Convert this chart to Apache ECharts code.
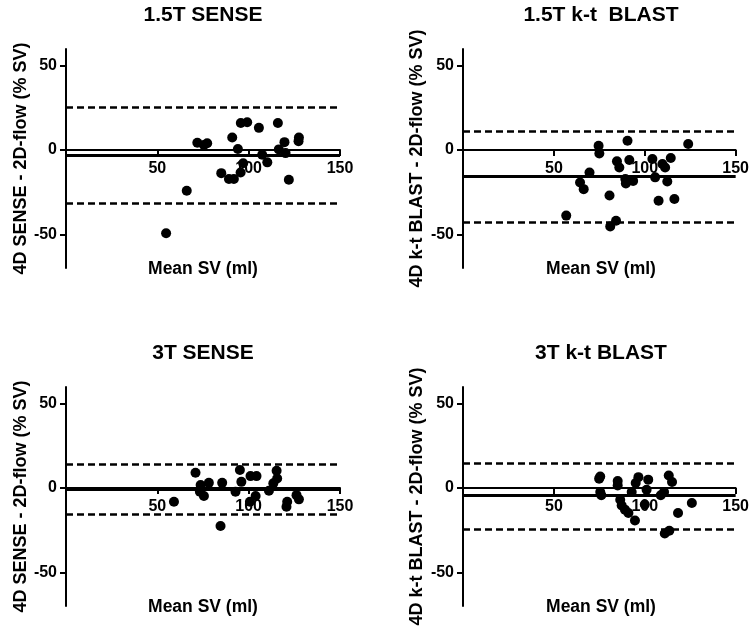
<!DOCTYPE html>
<html>
<head>
<meta charset="utf-8">
<script src="https://cdn.jsdelivr.net/npm/echarts@6/dist/echarts.min.js"></script>
<style>
html,body{margin:0;padding:0;background:#fff;}
#chart{width:752px;height:631px;}
</style>
</head>
<body>
<div id="chart"></div>
<script>
// ---- data (Bland-Altman: mean SV in ml, difference in % SV) ----
var panelTitles = ['1.5T SENSE', '1.5T k-t  BLAST', '3T SENSE', '3T k-t BLAST'];
var yAxisTitles = ['4D SENSE - 2D-flow (% SV)', '4D k-t BLAST - 2D-flow (% SV)', '4D SENSE - 2D-flow (% SV)', '4D k-t BLAST - 2D-flow (% SV)'];
var xAxisTitle = 'Mean SV (ml)';
var xTicks = [0, 50, 100, 150];
var yTicks = [-50, 0, 50];

var sense15 = [[54.8,-49.4],[66.1,-24.1],[71.9,4.4],[75.5,3.0],[77.3,4.0],[85.0,-13.7],[89.2,-17.2],[91.9,-17.2],[91.0,7.5],[94.1,0.6],[95.6,-13.3],[95.7,16.1],[97.0,-7.8],[99.2,16.5],[105.6,13.2],[107.4,-2.8],[110.2,-7.3],[116.0,16.1],[116.5,0.4],[119.6,4.7],[120.2,-1.8],[122.0,-17.6],[127.5,7.5],[127.3,5.3]];
var blast15 = [[56.8,-38.9],[64.4,-19.2],[66.4,-23.2],[69.6,-13.3],[74.6,2.5],[75.0,-2.0],[80.6,-27.0],[81.0,-45.3],[84.2,-42.0],[84.7,-6.7],[86.0,-10.3],[89.3,-17.2],[89.6,-19.8],[90.5,5.5],[91.5,-5.9],[93.6,-18.3],[104.2,-5.3],[105.7,-16.2],[107.6,-30.1],[109.7,-8.3],[111.2,-10.3],[112.4,-18.6],[114.3,-4.7],[116.3,-29.0],[123.9,3.6]];
var sense3 = [[59.1,-8.1],[70.9,9.1],[73.7,1.8],[73.3,-2.2],[75.5,-4.7],[78.2,3.1],[84.6,-22.5],[85.5,3.1],[92.8,-2.2],[95.2,10.7],[96.0,3.7],[100.7,-8.1],[101.0,7.1],[103.8,-4.7],[104.3,7.1],[111.1,-1.6],[113.5,2.8],[115.3,10.3],[115.6,5.7],[120.7,-11.1],[121.1,-8.1],[126.2,-4.2],[127.5,-6.7]];
var blast3 = [[74.9,5.6],[75.5,6.9],[75.5,-2.4],[76.1,-4.3],[85.1,4.2],[85.1,1.6],[86.5,-6.9],[87.3,-10.3],[89.1,-12.8],[91.0,-14.8],[94.6,-19.2],[92.8,-2.4],[95.0,3.0],[96.5,6.5],[100.0,-9.8],[101.0,-1.0],[101.9,5.0],[108.8,-4.3],[110.6,-2.4],[111.0,-27.0],[113.5,-25.3],[113.2,7.5],[115.0,3.6],[118.3,-14.8],[125.9,-8.9]];

var bias = [-3.1, -15.6, -0.5, -4.3];
var upperLoA = [25.5, 11.4, 14.2, 14.8];
var lowerLoA = [-31.5, -42.6, -15.4, -24.4];

var panelData = [sense15, blast15, sense3, blast3];

// ---- layout ----
var yMin = -70, yMax = 60;
var grids = [
  {left: 66, top: 49, width: 274, height: 219},
  {left: 463, top: 49, width: 274, height: 219},
  {left: 66, top: 387, width: 274, height: 219},
  {left: 463, top: 387, width: 274, height: 219}
];
var FONT = '"Liberation Sans", Arial, sans-serif';
var titleCenters = [[203, 5], [601, 5], [203, 343], [601, 343]];
var xTitleTops = [260, 260, 598, 598];
var yNameGaps = [34, 37, 34, 37];

var option = {
  backgroundColor: '#fff',
  animation: false,
  title: [],
  grid: [],
  xAxis: [],
  yAxis: [],
  series: []
};

for (var i = 0; i < 4; i++) {
  // x axis sits on y = 0: shift it up from the grid bottom by the pixel height of (0 - yMin)
  var zeroOffset = -grids[i].height * (0 - yMin) / (yMax - yMin);
  option.title.push({
    text: panelTitles[i], left: titleCenters[i][0], top: titleCenters[i][1], textAlign: 'center', padding: 0,
    textStyle: {fontFamily: FONT, fontWeight: 'bold', fontSize: 21, color: '#000'}
  });
  option.title.push({
    text: xAxisTitle, left: titleCenters[i][0], top: xTitleTops[i], textAlign: 'center', padding: 0,
    textStyle: {fontFamily: FONT, fontWeight: 'bold', fontSize: 17.5, color: '#000'}
  });
  option.grid.push(Object.assign({containLabel: false}, grids[i]));
  option.xAxis.push({
    gridIndex: i, type: 'value', min: xTicks[0], max: xTicks[xTicks.length - 1], interval: 50,
    position: 'bottom', offset: zeroOffset,
    z: 5,
    splitLine: {show: false},
    axisLine: {show: true, onZero: false, lineStyle: {color: '#000', width: 2}},
    axisTick: {show: true, inside: false, length: 6, lineStyle: {color: '#000', width: 2}},
    axisLabel: {
      show: true, margin: 11, fontFamily: FONT, fontWeight: 'bold', fontSize: 16, color: '#000',
      formatter: function (v) { return v === 0 ? '' : String(v); }
    }
  });
  option.yAxis.push({
    gridIndex: i, type: 'value', min: yMin, max: yMax,
    name: yAxisTitles[i], nameLocation: 'middle', nameGap: yNameGaps[i], nameRotate: 90,
    nameTextStyle: {fontFamily: FONT, fontWeight: 'bold', fontSize: 18, color: '#000'},
    splitLine: {show: false},
    axisLine: {show: true, onZero: false, lineStyle: {color: '#000', width: 2}},
    axisTick: {show: true, inside: false, length: 6, customValues: yTicks, lineStyle: {color: '#000', width: 2}},
    axisLabel: {show: true, margin: 9, customValues: yTicks, fontFamily: FONT, fontWeight: 'bold', fontSize: 16, color: '#000'}
  });
  option.series.push({
    type: 'scatter', xAxisIndex: i, yAxisIndex: i,
    data: panelData[i],
    symbol: 'circle', symbolSize: 10,
    itemStyle: {color: '#000', opacity: 1},
    markLine: {
      silent: true, symbol: ['none', 'none'], label: {show: false},
      data: [
        {yAxis: bias[i], lineStyle: {color: '#000', width: 3, type: 'solid', opacity: 1}},
        {yAxis: upperLoA[i], lineStyle: {color: '#000', width: 2.5, type: [7, 4], opacity: 1}},
        {yAxis: lowerLoA[i], lineStyle: {color: '#000', width: 2.5, type: [7, 4], opacity: 1}}
      ]
    }
  });
}

var chart = echarts.init(document.getElementById('chart'), null, {renderer: 'canvas'});
chart.setOption(option);
</script>
</body>
</html>
